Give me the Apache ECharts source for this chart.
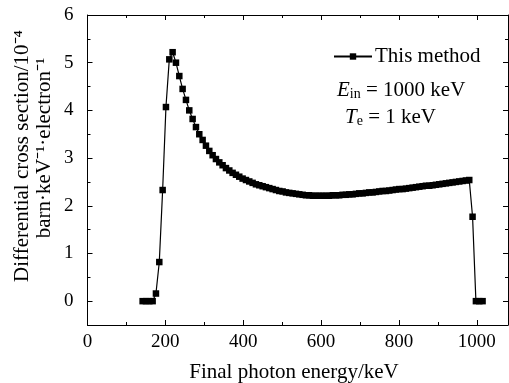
<!DOCTYPE html>
<html>
<head>
<meta charset="utf-8">
<script src="https://cdn.jsdelivr.net/npm/echarts@6/dist/echarts.min.js"></script>
<style>html,body{margin:0;padding:0;background:#fff}#c{width:509px;height:383px}</style>
</head>
<body>
<div id="c"></div>
<script>
// Final photon energy (keV)
var energy = [141.6,150.2,158.7,167.3,175.8,184.4,193.0,201.5,210.1,218.6,
227.2,235.8,244.3,252.9,261.4,270.0,278.6,287.1,295.7,304.2,
312.8,321.4,329.9,338.5,347.0,355.6,364.2,372.7,381.3,389.8,
398.4,407.0,415.5,424.1,432.6,441.2,449.8,458.3,466.9,475.4,
484.0,492.6,501.1,509.7,518.2,526.8,535.4,543.9,552.5,561.0,
569.6,578.2,586.7,595.3,603.8,612.4,621.0,629.5,638.1,646.6,
655.2,663.8,672.3,680.9,689.4,698.0,706.6,715.1,723.7,732.2,
740.8,749.4,757.9,766.5,775.0,783.6,792.2,800.7,809.3,817.8,
826.4,835.0,843.5,852.1,860.6,869.2,877.8,886.3,894.9,903.4,
912.0,920.6,929.1,937.7,946.2,954.8,963.4,971.9,980.5,989.0,
997.6,1006.2,1014.7];
// Differential cross section (1e-4 barn/keV/electron)
var crossSection = [0,0,0,0,0.16,0.82,2.33,4.07,5.07,5.22,
5.00,4.72,4.45,4.22,4.00,3.82,3.65,3.50,3.38,3.26,
3.15,3.06,2.98,2.91,2.85,2.79,2.74,2.69,2.65,2.61,
2.57,2.54,2.51,2.48,2.45,2.43,2.41,2.39,2.37,2.35,
2.33,2.31,2.30,2.28,2.27,2.26,2.25,2.24,2.23,2.22,
2.22,2.21,2.21,2.21,2.21,2.21,2.21,2.22,2.22,2.22,
2.23,2.23,2.24,2.24,2.25,2.26,2.26,2.27,2.28,2.28,
2.29,2.30,2.31,2.31,2.32,2.33,2.34,2.35,2.35,2.36,
2.37,2.38,2.39,2.40,2.41,2.42,2.42,2.43,2.44,2.45,
2.46,2.47,2.48,2.49,2.50,2.51,2.52,2.53,2.54,1.77,
0,0,0];
var xMajorTicks = [0, 200, 400, 600, 800, 1000];
var xMinorTicks = [100, 300, 500, 700, 900];
var yMajorTicks = [0, 1, 2, 3, 4, 5, 6];
var yMinorTicks = [-0.5, 0.5, 1.5, 2.5, 3.5, 4.5, 5.5];
var seriesName = 'This method';
var xTitle = 'Final photon energy/keV';
var yTitle1 = 'Differential cross section/10\u207B\u2074';
var yTitle2 = 'barn\u00B7keV\u207B\u00B9\u00B7electron\u207B\u00B9';

var FONT = 'Liberation Serif';
var pts = energy.map(function (e, i) { return [e, crossSection[i]]; });

function xAx(pos, ticks, len, labels, line) {
  return {
    type: 'value', position: pos, min: 0, max: 1080,
    axisLine: {show: line, onZero: false, lineStyle: {color: '#000', width: 1}},
    axisTick: {show: true, inside: true, length: len, customValues: ticks, lineStyle: {color: '#000', width: 1}},
    axisLabel: {show: labels, margin: 8, customValues: ticks, color: '#000', fontFamily: FONT, fontSize: 19,
      formatter: function (v) { return String(v); }},
    splitLine: {show: false}
  };
}
function yAx(pos, ticks, len, labels, line) {
  return {
    type: 'value', position: pos, min: -0.5, max: 6,
    axisLine: {show: line, onZero: false, lineStyle: {color: '#000', width: 1}},
    axisTick: {show: true, inside: true, length: len, customValues: ticks, lineStyle: {color: '#000', width: 1}},
    axisLabel: {show: labels, margin: 14, customValues: ticks, color: '#000', fontFamily: FONT, fontSize: 19,
      formatter: function (v) { return String(v); }},
    splitLine: {show: false}
  };
}

var chart = echarts.init(document.getElementById('c'), null, {renderer: 'canvas'});
var richBase = {
  t: {fontFamily: FONT, fontSize: 21, fill: '#000'},
  i: {fontFamily: FONT, fontSize: 21, fontStyle: 'italic', fill: '#000'},
  s: {fontFamily: FONT, fontSize: 14, fill: '#000', padding: [9, 0, 0, 0]},
  n: {fontFamily: FONT, fontSize: 21, fill: '#000'}
};
function ts(text) {
  return {text: '{t|' + text + '}', fill: '#000', align: 'center', verticalAlign: 'middle', rich: richBase};
}

chart.setOption({
  backgroundColor: '#fff',
  animation: false,
  grid: {left: 87.5, right: 1, top: 15, bottom: 58, containLabel: false},
  xAxis: [
    xAx('bottom', xMajorTicks, 5, true, true),
    xAx('bottom', xMinorTicks, 3, false, false),
    xAx('top', xMajorTicks, 5, false, true),
    xAx('top', xMinorTicks, 3, false, false)
  ],
  yAxis: [
    yAx('left', yMajorTicks, 5, true, true),
    yAx('left', yMinorTicks, 3, false, false),
    yAx('right', yMajorTicks, 5, false, true),
    yAx('right', yMinorTicks, 3, false, false)
  ],
  legend: {
    show: true, left: 328, top: 41, itemWidth: 38, itemHeight: 8, itemGap: 4,
    textStyle: {color: '#000', fontFamily: FONT, fontSize: 21, padding: [0, 0, 0, -2]},
    data: [seriesName]
  },
  series: [{
    name: seriesName, type: 'line', xAxisIndex: 0, yAxisIndex: 0,
    data: pts, symbol: 'rect', symbolSize: 6.5, clip: false,
    lineStyle: {color: '#000', width: 1.2},
    itemStyle: {color: '#000', borderWidth: 0}
  }],
  graphic: [
    {type: 'text', x: 294, y: 372, style: ts(xTitle)},
    {type: 'text', x: 22, y: 156, rotation: Math.PI / 2, style: ts(yTitle1)},
    {type: 'text', x: 44, y: 148, rotation: Math.PI / 2, style: ts(yTitle2)},
    {type: 'text', x: 337, y: 90, style: {
      text: '{i|E}{s|in}{n| = 1000 keV}', verticalAlign: 'middle', fill: '#000', rich: richBase}},
    {type: 'text', x: 345, y: 117, style: {
      text: '{i|T}{s|e}{n| = 1 keV}', verticalAlign: 'middle', fill: '#000', rich: richBase}}
  ]
});
</script>
</body>
</html>
